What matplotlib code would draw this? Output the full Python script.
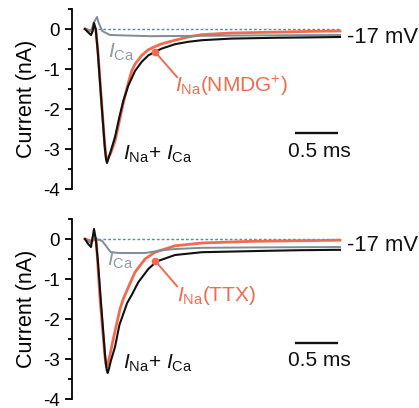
import matplotlib
matplotlib.use("Agg")
import matplotlib.pyplot as plt

plt.rcParams['font.family'] = ['Liberation Sans', 'DejaVu Sans']
plt.rcParams['mathtext.fontset'] = 'custom'
plt.rcParams['mathtext.rm'] = 'Liberation Sans'
plt.rcParams['mathtext.it'] = 'Liberation Sans:italic'

# ---------------- data (time in ms, current in nA) ----------------
# top panel
top_total_t = [0, 0.035, 0.07, 0.09, 0.105, 0.125, 0.15, 0.19, 0.23, 0.245, 0.256, 0.268, 0.3, 0.349, 0.4, 0.445,
               0.503, 0.581, 0.66, 0.736, 0.814, 0.892, 1.047, 1.2, 1.36, 1.7, 2.2, 2.6, 2.965]
top_total_i = [0, -0.08, -0.15, -0.05, 0.15, 0.0, -0.6, -1.8, -2.95, -3.25, -3.35, -3.27, -3.05, -2.7, -2.2, -1.8,
               -1.42, -1.05, -0.82, -0.66, -0.57, -0.49, -0.38, -0.32, -0.28, -0.24, -0.22, -0.21, -0.2]

top_na_t = [0, 0.07, 0.1, 0.125, 0.15, 0.19, 0.23, 0.245, 0.256, 0.27, 0.3, 0.349, 0.4, 0.445, 0.503, 0.543,
            0.581, 0.66, 0.736, 0.814, 0.892, 1.047, 1.2, 1.36, 1.7, 2.2, 2.6, 2.965]
top_na_i = [0, -0.05, 0.05, 0.0, -0.55, -1.75, -2.9, -3.2, -3.3, -3.22, -3.1, -2.8, -2.3, -1.85, -1.35, -1.05,
            -0.88, -0.66, -0.52, -0.44, -0.37, -0.28, -0.2, -0.14, -0.1, -0.08, -0.06, -0.05]

top_ca_t = [0, 0.07, 0.1, 0.14, 0.16, 0.2, 0.29, 0.76, 1.36, 2.0, 2.965]
top_ca_i = [0, -0.05, 0.15, 0.3, 0.15, -0.05, -0.15, -0.18, -0.17, -0.16, -0.15]

# bottom panel
bot_total_t = [0, 0.035, 0.07, 0.105, 0.125, 0.15, 0.19, 0.235, 0.252, 0.264, 0.278, 0.3, 0.349, 0.4, 0.49,
               0.543, 0.62, 0.736, 0.834, 1.047, 1.36, 2.0, 2.5, 2.965]
bot_total_i = [0, -0.12, -0.2, 0.25, 0.0, -0.55, -1.7, -2.95, -3.27, -3.35, -3.25, -3.05, -2.7, -2.15, -1.6,
               -1.4, -1.08, -0.75, -0.56, -0.4, -0.33, -0.3, -0.28, -0.27]

bot_na_t = [0, 0.07, 0.13, 0.175, 0.228, 0.242, 0.252, 0.265, 0.29, 0.329, 0.407, 0.445, 0.503, 0.581, 0.698,
            0.814, 1.047, 1.36, 1.9, 2.965]
bot_na_i = [0, -0.05, 0.0, -1.5, -2.85, -3.12, -3.2, -3.12, -2.9, -2.5, -1.75, -1.5, -1.21, -0.83, -0.5,
            -0.33, -0.17, -0.1, -0.06, -0.03]

bot_ca_t = [0, 0.07, 0.105, 0.13, 0.2, 0.3, 0.4, 0.7, 0.9, 1.05, 1.36, 2.0, 2.965]
bot_ca_i = [0, -0.1, 0.15, 0.0, -0.05, -0.33, -0.35, -0.35, -0.28, -0.25, -0.22, -0.21, -0.2]

yticks = [0, -1, -2, -3, -4]
ytick_labels = ['0', '-1', '-2', '-3', '-4']
na_labels = [r'$I_{\rm Na}$(NMDG$^{+}$)', r'$I_{\rm Na}$(TTX)']
ca_label = r'$I_{\rm Ca}$'
total_label = r'$I_{\rm Na}$+ $I_{\rm Ca}$'
volt_label = '-17 mV'
scale_label = '0.5 ms'

BLACK = '#111111'
RED = '#f26a4f'
GRAY = '#7d8d95'
GRAY_TXT = '#8a9ca4'
DASH = '#5f88a0'

W, H = 419, 408
fig = plt.figure(figsize=(W / 100, H / 100), dpi=100)
fig.patch.set_facecolor('white')

panels = [
    dict(rect=[72 / W, (408 - 191) / H, 273 / W, 184 / H],
         total=(top_total_t, top_total_i), na=(top_na_t, top_na_i), ca=(top_ca_t, top_ca_i),
         na_label=na_labels[0], ca_pos=(0.267, -0.725), tot_pos=(0.442, -3.275),
         na_pos=(1.047, -1.575), dot=(0.814, -0.57), arrow_end=(1.07, -1.2),
         volt_y=-0.35, bar_y=-2.6, bar_txt_y=-3.2),
    dict(rect=[72 / W, (408 - 401) / H, 273 / W, 184 / H],
         total=(bot_total_t, bot_total_i), na=(bot_na_t, bot_na_i), ca=(bot_ca_t, bot_ca_i),
         na_label=na_labels[1], ca_pos=(0.256, -0.675), tot_pos=(0.442, -3.25),
         na_pos=(1.07, -1.55), dot=(0.814, -0.54), arrow_end=(1.07, -1.18),
         volt_y=-0.3, bar_y=-2.6, bar_txt_y=-3.175),
]

FS = 15
for p in panels:
    ax = fig.add_axes(p['rect'])
    ax.set_xlim(-0.151, 3.023)
    ax.set_ylim(-4.05, 0.55)
    ax.patch.set_alpha(0)
    for s in ['top', 'right', 'bottom']:
        ax.spines[s].set_visible(False)
    ax.spines['left'].set_bounds(-4, 0.5)
    ax.spines['left'].set_linewidth(1.3)
    ax.set_xticks([])
    ax.set_yticks(yticks)
    ax.set_yticklabels(ytick_labels)
    ax.set_yticks([0.5, -0.5, -1.5, -2.5, -3.5], minor=True)
    ax.tick_params(axis='y', which='major', length=5, width=1.3, labelsize=13.5, pad=4)
    ax.tick_params(axis='y', which='minor', length=3, width=1.3)
    ax.set_ylabel('Current (nA)', fontsize=FS + 0.5, labelpad=4)

    ax.plot([0.15, 2.965], [0, 0], ls=(0, (2, 1.5)), color=DASH, lw=1.0, zorder=1)
    ax.plot(*p['na'], color=RED, lw=2.0, zorder=2, solid_joinstyle='round')
    ax.plot(*p['total'], color=BLACK, lw=1.5, zorder=3, solid_joinstyle='round')
    ax.plot(*p['ca'], color=GRAY, lw=1.4, zorder=2.5, solid_joinstyle='round')

    ax.plot([p['dot'][0], p['arrow_end'][0]], [p['dot'][1], p['arrow_end'][1]], color=RED, lw=1.4, zorder=4)
    ax.plot([p['dot'][0]], [p['dot'][1]], 'o', color=RED, ms=4.5, zorder=4)

    ax.text(*p['ca_pos'], ca_label, color=GRAY_TXT, fontsize=FS, va='baseline', ha='left')
    ax.text(*p['tot_pos'], total_label, color=BLACK, fontsize=FS, va='baseline', ha='left')
    ax.text(*p['na_pos'], p['na_label'], color=RED, fontsize=FS, va='baseline', ha='left')
    ax.text(3.05, p['volt_y'], volt_label, color=BLACK, fontsize=FS + 0.8, va='baseline', ha='left',
            clip_on=False)

    ax.plot([2.442, 2.942], [p['bar_y'], p['bar_y']], color=BLACK, lw=1.7, solid_capstyle='butt')
    ax.text(2.727, p['bar_txt_y'], scale_label, color=BLACK, fontsize=FS, va='baseline', ha='center')

fig.savefig('out.png', dpi=100, facecolor='white')
